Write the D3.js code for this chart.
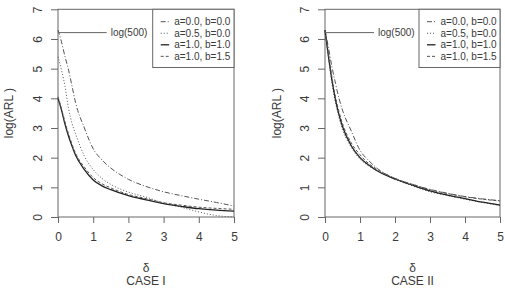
<!DOCTYPE html>
<html>
<head>
<meta charset="utf-8">
<script src="https://cdn.jsdelivr.net/npm/d3@7"></script>
<style>
  body { margin: 0; background: #fff; }
  svg { font-family: "Liberation Sans", Arial, sans-serif; }
</style>
</head>
<body>
<svg id="chart" width="505" height="296"></svg>
<script>
// delta grid shared by all curves
const delta = [0, 0.1, 0.2, 0.3, 0.4, 0.5, 0.75, 1, 1.25, 1.5, 2, 2.5, 3, 3.5, 4, 4.5, 5]

// CASE I
const case1_a00b00 = [6.3, 5.9, 5.4, 4.95, 4.4, 3.85, 3.0, 2.3, 1.92, 1.65, 1.27, 1.03, 0.85, 0.72, 0.6, 0.49, 0.37]
const case1_a05b00 = [5.4, 4.95, 4.4, 3.65, 3.15, 2.8, 2.05, 1.6, 1.3, 1.1, 0.84, 0.67, 0.47, 0.33, 0.17, 0.05, 0.0]
const case1_a10b10 = [4.0, 3.6, 3.12, 2.72, 2.38, 2.08, 1.6, 1.25, 1.05, 0.92, 0.72, 0.58, 0.45, 0.36, 0.28, 0.23, 0.2]
const case1_a10b15 = [4.05, 3.65, 3.2, 2.8, 2.45, 2.15, 1.68, 1.33, 1.12, 0.98, 0.76, 0.62, 0.48, 0.4, 0.33, 0.29, 0.26]

// CASE II
const case2_a00b00 = [6.3, 5.7, 5.05, 4.5, 4.0, 3.6, 2.9, 2.25, 1.9, 1.63, 1.3, 1.1, 0.93, 0.8, 0.69, 0.61, 0.55]
const case2_a05b00 = [6.25, 5.35, 4.5, 3.85, 3.35, 2.95, 2.35, 1.95, 1.72, 1.55, 1.27, 1.05, 0.85, 0.72, 0.6, 0.49, 0.39]
const case2_a10b10 = [6.3, 5.4, 4.6, 3.95, 3.45, 3.05, 2.4, 2.0, 1.75, 1.55, 1.28, 1.07, 0.88, 0.74, 0.62, 0.5, 0.4]
const case2_a10b15 = [6.3, 5.5, 4.7, 4.05, 3.55, 3.15, 2.5, 2.1, 1.8, 1.6, 1.3, 1.1, 0.92, 0.79, 0.68, 0.6, 0.54]

const legendLabels = ["a=0.0, b=0.0", "a=0.5, b=0.0", "a=1.0, b=1.0", "a=1.0, b=1.5"]
const dashes = ["5,2,1,2", "1,2", null, "3,2"]
const xTicks = [0, 1, 2, 3, 4, 5]
const yTicks = [0, 1, 2, 3, 4, 5, 6, 7]
const refLevel = Math.log(500)

const panels = [
    { series: [case1_a00b00, case1_a05b00, case1_a10b10, case1_a10b15], title: "CASE I",
      left: 58, right: 234, ylabX: 8.5, legX: 152.7, annX: 106.7 },
    { series: [case2_a00b00, case2_a05b00, case2_a10b10, case2_a10b15], title: "CASE II",
      left: 325, right: 500, ylabX: 277, legX: 419, annX: 374 }
]

const svg = d3.select("#chart")
const plotTop = 9.3, plotBottom = 217
const ink = "#3a3a3a"

panels.forEach(function (p) {
    var x = d3.scaleLinear().domain([0, 5]).range([p.left, p.right])
    var y = d3.scaleLinear().domain([0, 7]).range([plotBottom, plotTop])
    var g = svg.append("g")

    // x axis
    var xa = g.append("g").attr("transform", "translate(0," + plotBottom + ")")
        .call(d3.axisBottom(x).tickValues(xTicks).tickSize(6).tickPadding(9).tickFormat(d3.format("d")))
    xa.select(".domain").remove()
    xa.selectAll("line").attr("stroke", "#666")
    xa.selectAll("text").attr("font-size", 12).attr("fill", ink).attr("font-family", null)

    // y axis, labels parallel to the axis like R
    var ya = g.append("g").attr("transform", "translate(" + p.left + ",0)")
        .call(d3.axisLeft(y).tickValues(yTicks).tickSize(7).tickFormat(d3.format("d")))
    ya.select(".domain").remove()
    ya.selectAll("line").attr("stroke", "#666")
    ya.selectAll("text")
        .attr("transform", "rotate(-90)")
        .attr("x", 0).attr("y", -20).attr("dy", "0.35em")
        .attr("text-anchor", "middle")
        .attr("font-size", 12).attr("fill", ink).attr("font-family", null)

    // box
    g.append("rect")
        .attr("x", p.left).attr("y", plotTop)
        .attr("width", p.right - p.left).attr("height", plotBottom - plotTop)
        .attr("fill", "none").attr("stroke", "#666").attr("stroke-width", 1)

    // curves
    var line = d3.line()
        .x(function (d, i) { return x(delta[i]) })
        .y(function (d) { return y(d) })
        .curve(d3.curveMonotoneX)
    p.series.forEach(function (s, i) {
        g.append("path").datum(s)
            .attr("d", line)
            .attr("fill", "none")
            .attr("stroke", i == 2 ? "#222" : "#555")
            .attr("stroke-width", i == 2 ? 1.3 : 1)
            .attr("stroke-dasharray", dashes[i])
    })

    // log(500) marker
    g.append("line")
        .attr("x1", x(0)).attr("x2", p.annX)
        .attr("y1", y(refLevel)).attr("y2", y(refLevel))
        .attr("stroke", "#666").attr("stroke-width", 1)
    g.append("text")
        .attr("x", p.annX + 4).attr("y", y(refLevel)).attr("dy", "0.35em")
        .attr("font-size", 10).attr("fill", ink)
        .text("log(500)")

    // legend
    var leg = g.append("g")
    leg.append("rect")
        .attr("x", p.legX).attr("y", plotTop)
        .attr("width", p.right - p.legX).attr("height", 67.5 - plotTop)
        .attr("fill", "#fff").attr("stroke", "#666")
    legendLabels.forEach(function (lab, i) {
        var ly = 21.7 + i * 11.55
        leg.append("line")
            .attr("x1", p.legX + 8).attr("x2", p.legX + 16.5)
            .attr("y1", ly).attr("y2", ly)
            .attr("stroke", i == 2 ? "#222" : "#555")
            .attr("stroke-width", i == 2 ? 1.3 : 1)
            .attr("stroke-dasharray", dashes[i])
        leg.append("text")
            .attr("x", p.legX + 21.5).attr("y", ly).attr("dy", "0.35em")
            .attr("font-size", 10).attr("fill", ink)
            .text(lab)
    })

    // axis titles
    var cx = (p.left + p.right) / 2
    g.append("text").attr("x", cx).attr("y", 272).attr("text-anchor", "middle")
        .attr("font-size", 12).attr("fill", ink).text("δ")
    g.append("text").attr("x", cx).attr("y", 284.5).attr("text-anchor", "middle")
        .attr("font-size", 12).attr("fill", ink).text(p.title)
    g.append("text")
        .attr("transform", "translate(" + p.ylabX + "," + ((plotTop + plotBottom) / 2) + ") rotate(-90)")
        .attr("text-anchor", "middle").attr("dy", "0.35em")
        .attr("font-size", 12).attr("fill", ink).text("log(ARL )")
})
</script>
</body>
</html>
